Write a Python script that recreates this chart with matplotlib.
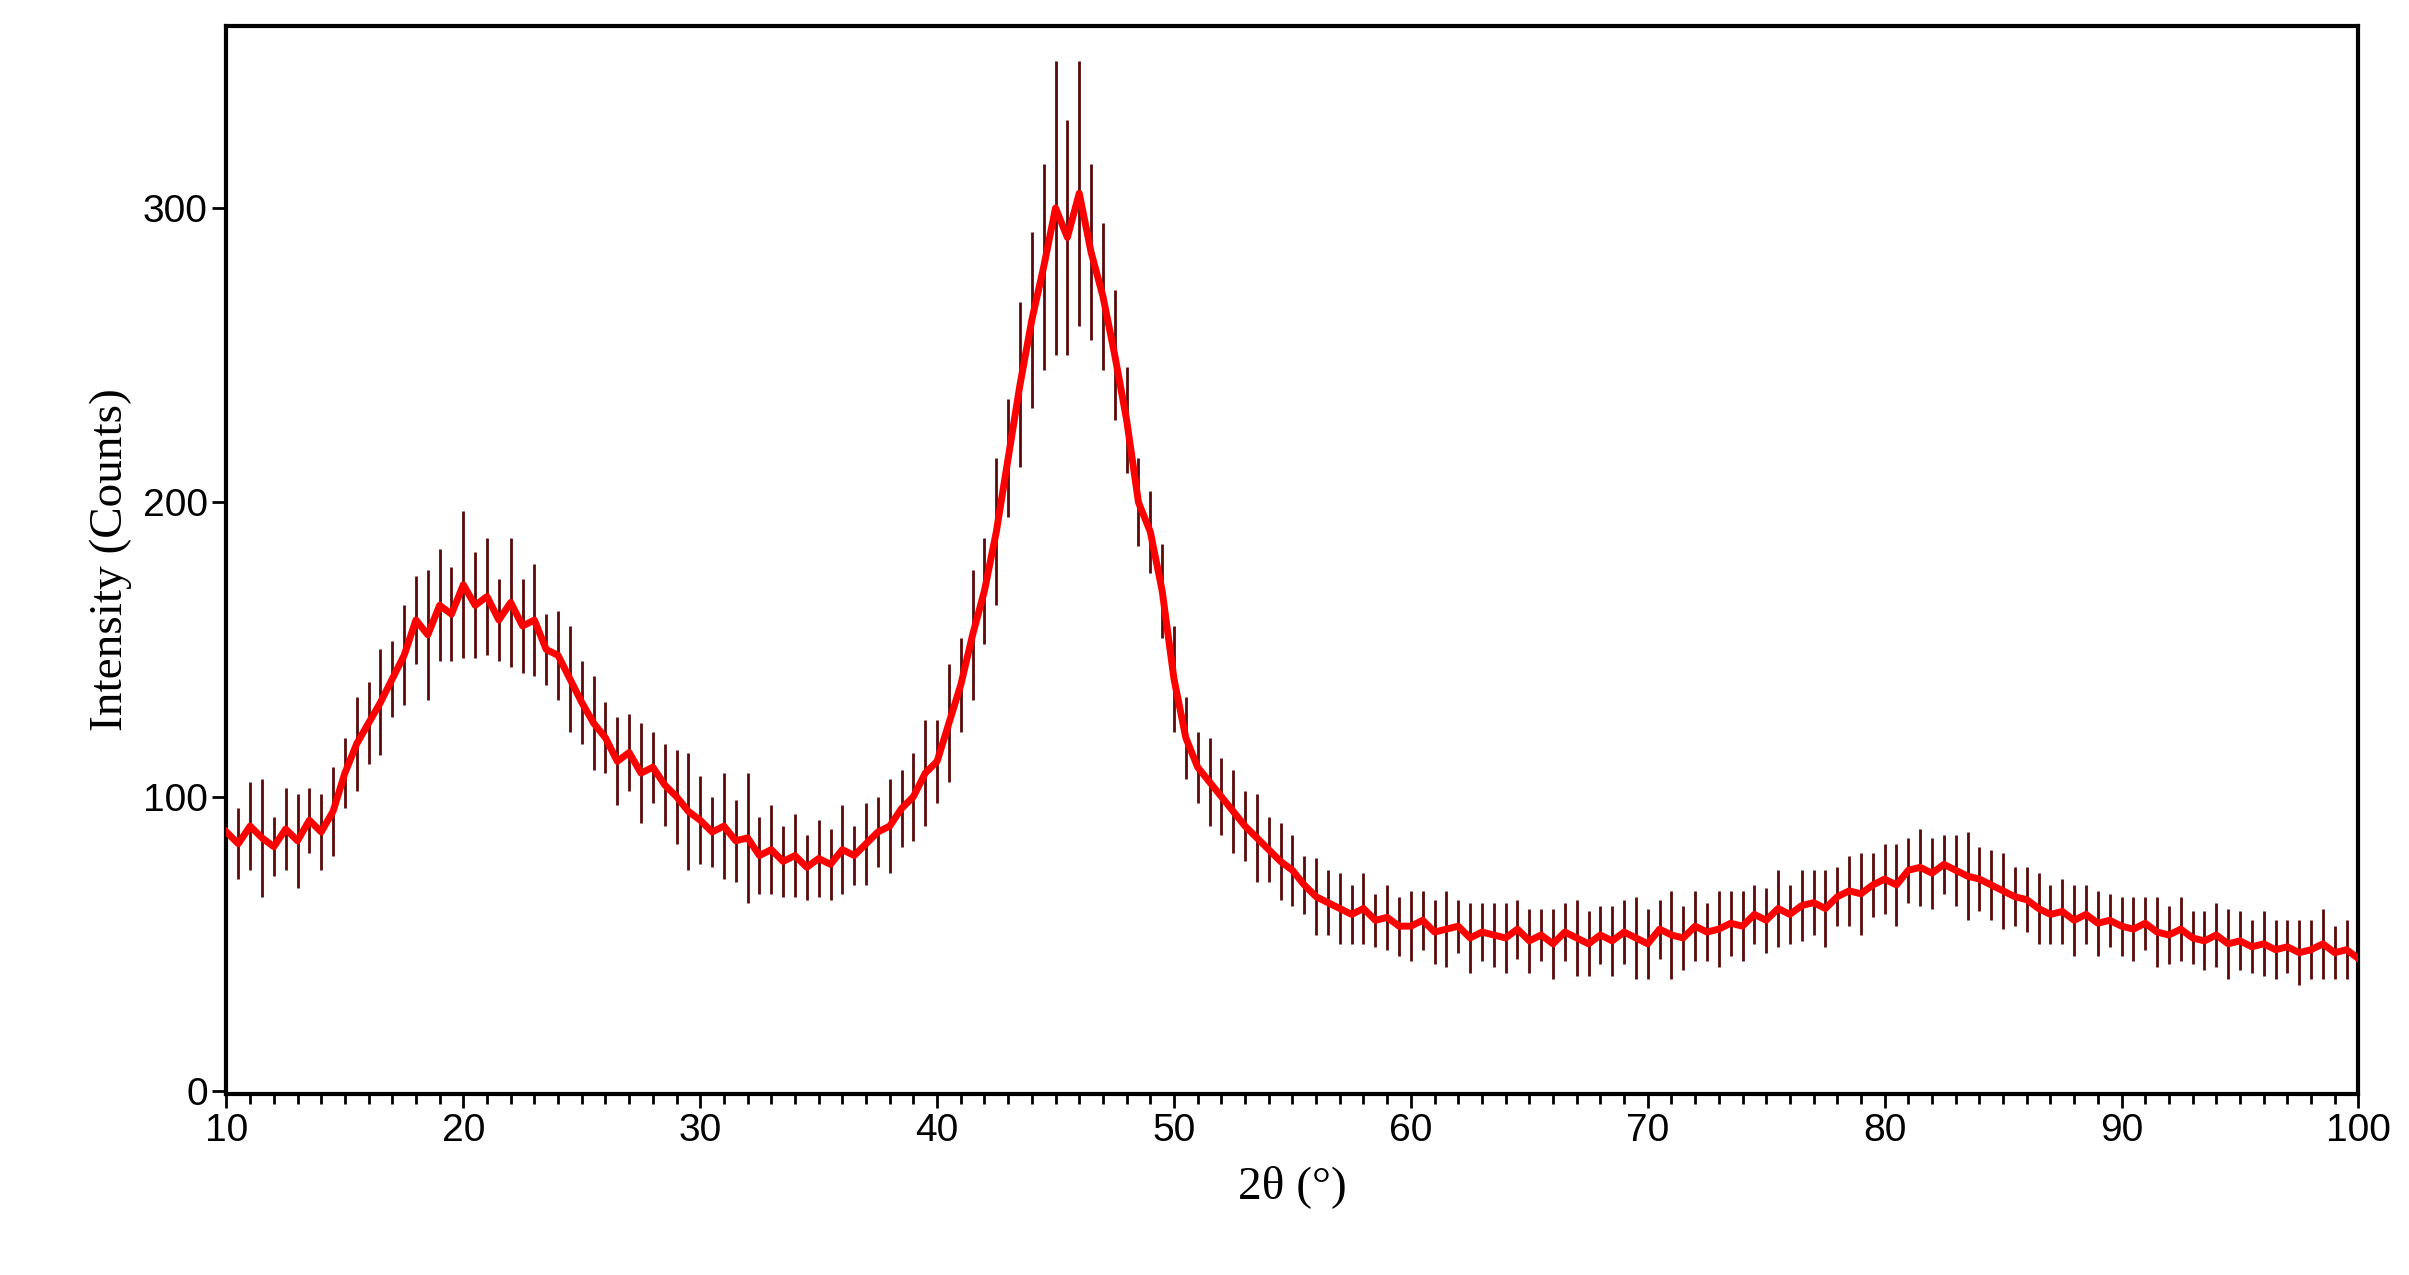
import numpy as np
import matplotlib.pyplot as plt

# 2theta grid (0.5 deg steps) and intensity
two_theta = np.arange(10, 100.5, 0.5)
intensity = [
    88, 84, 90, 86, 83, 89, 85, 92, 88, 95,
    108, 118, 125, 132, 140, 148, 160, 155, 165, 162,
    172, 165, 168, 160, 166, 158, 160, 150, 148, 140,
    132, 125, 120, 112, 115, 108, 110, 104, 100, 95,
    92, 88, 90, 85, 86, 80, 82, 78, 80, 76,
    79, 77, 82, 80, 84, 88, 90, 96, 100, 108,
    112, 125, 138, 155, 170, 190, 215, 240, 262, 280,
    300, 290, 305, 285, 270, 250, 228, 200, 190, 170,
    140, 120, 110, 105, 100, 95, 90, 86, 82, 78,
    75, 70, 66, 64, 62, 60, 62, 58, 59, 56,
    56, 58, 54, 55, 56, 52, 54, 53, 52, 55,
    51, 53, 50, 54, 52, 50, 53, 51, 54, 52,
    50, 55, 53, 52, 56, 54, 55, 57, 56, 60,
    58, 62, 60, 63, 64, 62, 66, 68, 67, 70,
    72, 70, 75, 76, 74, 77, 75, 73, 72, 70,
    68, 66, 65, 62, 60, 61, 58, 60, 57, 58,
    56, 55, 57, 54, 53, 55, 52, 51, 53, 50,
    51, 49, 50, 48, 49, 47, 48, 50, 47, 48,
    45,
]
# half-height of the noise spikes at each point
spike = [
    18, 12, 15, 20, 10, 14, 16, 11, 13, 15,
    12, 16, 14, 18, 13, 17, 15, 22, 19, 16,
    25, 18, 20, 14, 22, 16, 19, 12, 15, 18,
    14, 16, 12, 15, 13, 17, 12, 14, 16, 20,
    15, 12, 18, 14, 22, 13, 15, 12, 14, 11,
    13, 12, 15, 10, 14, 12, 16, 13, 15, 18,
    14, 20, 16, 22, 18, 25, 20, 28, 30, 35,
    50, 40, 45, 30, 25, 22, 18, 15, 14, 16,
    18, 14, 12, 15, 13, 14, 12, 15, 11, 13,
    12, 10, 13, 11, 12, 10, 12, 9, 11, 10,
    12, 10, 11, 13, 9, 12, 10, 11, 12, 10,
    11, 9, 12, 10, 13, 11, 10, 12, 11, 14,
    12, 10, 15, 11, 12, 10, 13, 11, 12, 10,
    11, 13, 10, 12, 11, 13, 10, 12, 14, 11,
    12, 14, 11, 13, 12, 10, 12, 15, 11, 12,
    13, 10, 11, 12, 10, 11, 12, 10, 11, 9,
    10, 11, 9, 12, 10, 11, 9, 10, 11, 12,
    10, 9, 11, 10, 9, 11, 10, 12, 9, 10,
    10,
]

y = np.array(intensity, dtype=float)
s = np.array(spike, dtype=float)

fig = plt.figure(figsize=(24.09, 12.75), dpi=100)
ax = fig.add_axes([0.094, 0.142, 0.885, 0.838])

ax.vlines(two_theta, y - s, y + s, color='#5a0a0a', lw=2, zorder=2)
ax.plot(two_theta, y, color='red', lw=5, zorder=3)

ax.set_xlim(10, 100)
ax.set_ylim(-1, 362)
ax.set_xticks(np.arange(10, 101, 10))
ax.set_xticks(np.arange(10, 101, 1), minor=True)
ax.set_yticks([0, 100, 200, 300])

for sp in ax.spines.values():
    sp.set_linewidth(3)
ax.tick_params(axis='both', which='major', direction='out', length=10, width=2,
               labelsize=28)
ax.tick_params(axis='x', which='minor', direction='out', length=7, width=2)
for lab in ax.get_xticklabels() + ax.get_yticklabels():
    lab.set_family('Liberation Sans')

ax.set_xlabel('2θ (°)', family='Liberation Serif', fontsize=34, labelpad=12)
ax.set_ylabel('Intensity (Counts)', family='Liberation Serif', fontsize=34, labelpad=8)

fig.savefig('out.png', dpi=100)
